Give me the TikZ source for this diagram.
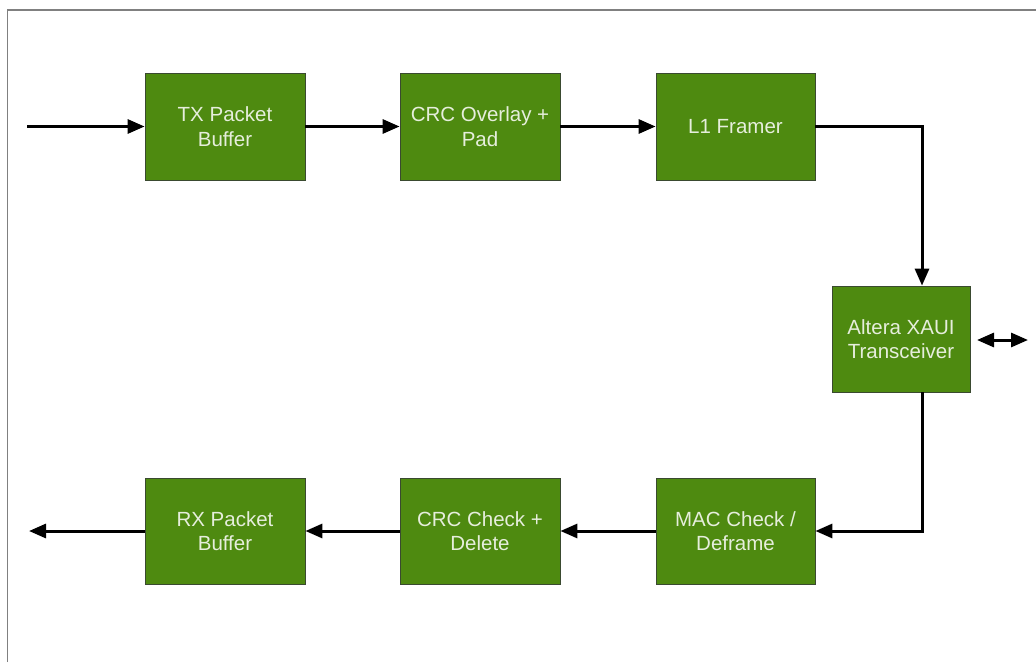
\documentclass[tikz,border=0pt]{standalone}
\usepackage{fontspec}
\setmainfont{Liberation Sans}
\usetikzlibrary{arrows.meta}
\definecolor{boxgreen}{HTML}{4E8A10}
\definecolor{boxedge}{HTML}{3A4A30}
\definecolor{txtcol}{HTML}{E6EEDC}
\definecolor{framecol}{HTML}{808080}
\begin{document}
\begin{tikzpicture}[x=1pt,y=-1pt,
  blk/.style={draw=boxedge,line width=0.8pt,fill=boxgreen,text=txtcol,align=center,
    font=\fontsize{20.5}{24.5}\selectfont,inner sep=0pt},
  conn/.style={line width=3pt,-{Triangle[length=17pt,width=14pt]}},
  bidir/.style={line width=3pt,{Triangle[length=17pt,width=14pt]}-{Triangle[length=17pt,width=14pt]}}]
\useasboundingbox (0,0) rectangle (1036,662);
\draw[framecol,line width=1.5pt] (7.5,662) -- (7.5,10) -- (1036,10);
\node[blk,minimum width=160pt,minimum height=107pt] (tx) at (225,126.5) {TX Packet\\Buffer};
\node[blk,minimum width=160pt,minimum height=107pt] (crco) at (480,126.5) {CRC Overlay +\\Pad};
\node[blk,minimum width=159pt,minimum height=107pt] (l1) at (735.5,126.5) {L1 Framer};
\node[blk,minimum width=138pt,minimum height=106pt] (xaui) at (901,339) {Altera XAUI\\Transceiver};
\node[blk,minimum width=159pt,minimum height=106pt] (mac) at (735.5,531) {MAC Check /\\Deframe};
\node[blk,minimum width=160pt,minimum height=106pt] (crcc) at (480,531) {CRC Check +\\Delete};
\node[blk,minimum width=160pt,minimum height=106pt] (rx) at (225,531) {RX Packet\\Buffer};
\coordinate (in) at (27,126.5);
\coordinate (out) at (29,531);
\coordinate (vx) at (922,0);
\coordinate (bl) at (977,340);
\coordinate (br) at (1028,340);
\draw[conn] (in) -- (tx);
\draw[conn] (tx) -- (crco);
\draw[conn] (crco) -- (l1);
\draw[conn] (l1.east) -| (vx |- xaui.north);
\draw[conn] (vx |- xaui.south) |- (mac.east);
\draw[conn] (mac) -- (crcc);
\draw[conn] (crcc) -- (rx);
\draw[conn] (rx) -- (out);
\draw[bidir] (bl) -- (br);
\end{tikzpicture}
\end{document}
